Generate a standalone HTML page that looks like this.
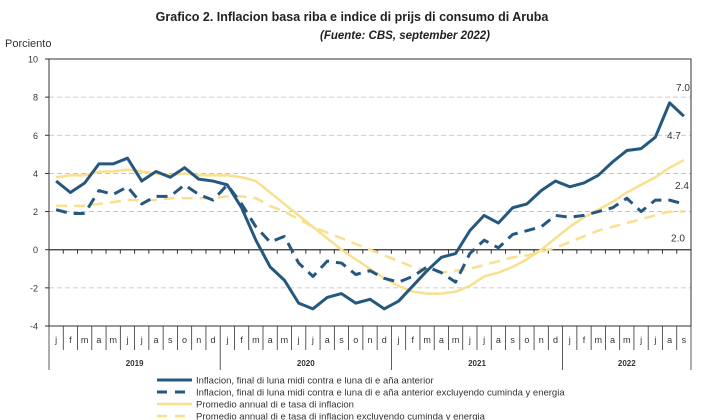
<!DOCTYPE html>
<html><head><meta charset="utf-8"><style>
body{margin:0;background:#fff;}
svg{display:block;font-family:"Liberation Sans","DejaVu Sans",sans-serif;}
</style></head><body>
<svg id="chart" width="720" height="420" viewBox="0 0 720 420">
<text x="352" y="21" text-anchor="middle" font-size="12.5" font-weight="bold" fill="#222">Grafico 2. Inflacion basa riba e indice di prijs di consumo di Aruba</text>
<text x="405" y="39" text-anchor="middle" font-size="11.5" font-style="italic" font-weight="bold" fill="#222">(Fuente: CBS, september 2022)</text>
<text x="5" y="47" font-size="11" fill="#333">Porciento</text>
<g id="grid"></g><g id="axes"></g><g id="series"></g><g id="labels"></g><g id="legend"></g>
</svg>
<script>
const months=["j","f","m","a","m","j","j","a","s","o","n","d"];
const years=["2019","2020","2021","2022"];
const yTicks=[-4,-2,0,2,4,6,8,10];
const inflation=[3.6,3.0,3.5,4.5,4.5,4.8,3.6,4.1,3.8,4.3,3.7,3.6, 3.4,2.2,0.5,-0.9,-1.6,-2.8,-3.1,-2.5,-2.3,-2.8,-2.6,-3.1, -2.7,-1.9,-1.1,-0.4,-0.2,1.0,1.8,1.4,2.2,2.4,3.1,3.6, 3.3,3.5,3.9,4.6,5.2,5.3,5.9,7.7,7.0];
const inflationCore=[2.1,1.9,1.9,3.1,2.9,3.3,2.4,2.8,2.8,3.4,2.9,2.6, 3.4,2.4,1.2,0.4,0.7,-0.7,-1.4,-0.6,-0.7,-1.3,-1.1,-1.5, -1.7,-1.4,-0.9,-1.2,-1.7,-0.2,0.5,0.1,0.8,1.0,1.2,1.8, 1.7,1.8,2.0,2.2,2.7,2.0,2.6,2.6,2.4];
const annualAvg=[3.8,3.9,3.9,4.1,4.1,4.2,4.1,4.0,3.9,4.0,3.9,3.9, 3.9,3.8,3.6,3.0,2.4,1.8,1.2,0.6,0.0,-0.5,-1.0,-1.5, -1.9,-2.2,-2.3,-2.3,-2.2,-1.9,-1.4,-1.2,-0.9,-0.5,0.0,0.6, 1.2,1.7,2.1,2.5,3.0,3.4,3.8,4.3,4.7];
const annualAvgCore=[2.3,2.3,2.3,2.4,2.5,2.6,2.6,2.6,2.7,2.7,2.7,2.7, 2.8,2.8,2.7,2.3,2.0,1.6,1.2,0.9,0.6,0.3,0.0,-0.3, -0.6,-0.9,-1.1,-1.2,-1.1,-1.0,-0.8,-0.6,-0.4,-0.3,-0.1,0.1, 0.4,0.7,1.0,1.2,1.4,1.6,1.8,2.0,2.0];
const endLabels=["7.0","4.7","2.4","2.0"];
const legendNames=["Inflacion, final di luna midi contra e luna di e aña anterior","Inflacion, final di luna midi contra e luna di e aña anterior excluyendo cuminda y energia","Promedio annual di e tasa di inflacion","Promedio annual di e tasa di inflacion excluyendo cuminda y energia"];

const NS="http://www.w3.org/2000/svg";
const X0=49,X1=691,Y0=326,Y1=59,N=inflation.length;
const bw=(X1-X0)/N;
const x=i=>X0+bw*(i+0.5);
const y=v=>Y0-(v-(-4))/(14)*(Y0-Y1);
function mk(p,t,a){const e=document.createElementNS(NS,t);for(const k in a)e.setAttribute(k,a[k]);p.appendChild(e);return e;}
const grid=document.getElementById('grid'),axes=document.getElementById('axes'),ser=document.getElementById('series'),lab=document.getElementById('labels'),leg=document.getElementById('legend');
yTicks.forEach(t=>{
  if(t!==0&&t!==-4){const g=mk(grid,'line',{x1:X0,x2:X1,y1:y(t),y2:y(t),stroke:'#bbb','stroke-dasharray':'5,3','stroke-width':0.8});
  
  }
  const tk=mk(axes,'line',{x1:X0-4,x2:X0,y1:y(t),y2:y(t),stroke:'#333'});
  
  
  const tl=mk(axes,'text',{x:X0-11,y:y(t)+3.5,'text-anchor':'end','font-size':9,fill:'#333'});
  tl.textContent=t;
  
  
});
const frame=mk(axes,'rect',{x:X0,y:Y1,width:X1-X0,height:Y0-Y1,fill:'none',stroke:'#333','stroke-width':1});


const zl=mk(axes,'line',{x1:X0,x2:X1,y1:y(0),y2:y(0),stroke:'#333','stroke-width':1.2});


for(let i=0;i<=N;i++){
  const bx=X0+bw*i;
  const zt=mk(axes,'line',{x1:bx,x2:bx,y1:y(0),y2:y(0)+4,stroke:'#333'});
  
  
  const isYear=i%12===0||i===N;
  const sep=mk(axes,'line',{x1:bx,x2:bx,y1:Y0,y2:isYear?370:350,stroke:'#333','stroke-width':0.8});
  
  
  if(i<N){const m=mk(axes,'text',{x:x(i),y:343,'text-anchor':'middle','font-size':9,fill:'#333'});
  m.textContent=months[i%12];
  
  }
}
years.forEach((yr,k)=>{
  const s=k*12,e=Math.min(N,s+12);
  const t=mk(axes,'text',{x:X0+bw*(s+e)/2,y:366,'text-anchor':'middle','font-size':8,'font-weight':'bold',fill:'#333'});
  t.textContent=yr;
  
  
});
const styles=[
 {d:inflation,c:'#24587f',w:3,da:null,n:'inflation-line'},
 {d:inflationCore,c:'#24587f',w:3,da:'11,7',n:'inflation-core-line'},
 {d:annualAvg,c:'#f8e08e',w:2.5,da:null,n:'annual-average-line'},
 {d:annualAvgCore,c:'#f8e08e',w:2.5,da:'11,7',n:'annual-average-core-line'}];
[3,2,1,0].forEach(k=>{
  const s=styles[k];
  const p=mk(ser,'polyline',{points:s.d.map((v,i)=>x(i)+','+y(v)).join(' '),fill:'none',stroke:s.c,'stroke-width':s.w,'stroke-linejoin':'round'});
  if(s.da)p.setAttribute('stroke-dasharray',s.da);
  
  
});
const lastY=[inflation,annualAvg,inflationCore,annualAvgCore].map(a=>a[N-1]);
const lpos=[[683,y(lastY[0])-25],[674,y(lastY[1])-21],[682,y(lastY[2])-15],[678,y(lastY[3])+30]];
endLabels.forEach((t,k)=>{
  const e=mk(lab,'text',{x:lpos[k][0],y:lpos[k][1],'text-anchor':'middle','font-size':10,fill:'#333'});
  e.textContent=t;
  
  
});
legendNames.forEach((nm,k)=>{
  const ly=380+k*12;
  const s=styles[k];
  const l=mk(leg,'line',{x1:157,x2:192,y1:ly,y2:ly,stroke:s.c,'stroke-width':s.w});
  if(s.da)l.setAttribute('stroke-dasharray','10,8');
  
  
  const t=mk(leg,'text',{x:196,y:ly+3.5,'font-size':9.5,fill:'#333'});
  t.textContent=nm;
  
  
});
</script>
</body></html>
